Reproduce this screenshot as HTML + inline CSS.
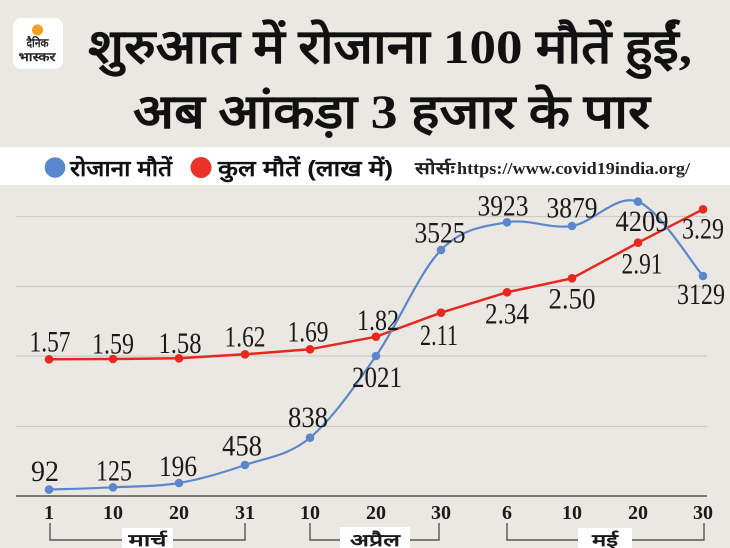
<!DOCTYPE html>
<html><head><meta charset="utf-8"><style>
html,body{margin:0;padding:0;background:#ebe8e3;}
svg{display:block;}
</style></head><body>
<svg width="730" height="548" viewBox="0 0 730 548" xmlns="http://www.w3.org/2000/svg">
<rect width="730" height="548" fill="#ebe8e3"/>
<!-- logo -->
<rect x="13" y="18" width="50" height="51" rx="8" fill="#ffffff"/>
<circle cx="37.5" cy="30" r="5.5" fill="#f5a020"/>
<text x="37.5" y="47" text-anchor="middle" font-family="'Liberation Sans', sans-serif" font-weight="bold" font-size="12" textLength="22" lengthAdjust="spacingAndGlyphs" fill="#222">दैनिक</text>
<text x="37" y="61" text-anchor="middle" font-family="'Liberation Sans', sans-serif" font-weight="bold" font-size="12" textLength="37" lengthAdjust="spacingAndGlyphs" fill="#222">भास्कर</text>
<!-- title -->
<text x="88" y="63" font-family="'Liberation Serif', serif" font-weight="bold" font-size="48" textLength="604" lengthAdjust="spacingAndGlyphs" fill="#111">शुरुआत में रोजाना 100 मौतें हुईं,</text>
<text x="133" y="128" font-family="'Liberation Serif', serif" font-weight="bold" font-size="48" textLength="517" lengthAdjust="spacingAndGlyphs" fill="#111">अब आंकड़ा 3 हजार के पार</text>
<!-- legend band -->
<rect x="0" y="147" width="730" height="38" fill="#ffffff"/>
<circle cx="55" cy="167.5" r="10.3" fill="#5a87cc"/>
<text x="70" y="176" font-family="'Liberation Sans', sans-serif" font-weight="bold" font-size="22" textLength="102" lengthAdjust="spacingAndGlyphs" fill="#111">रोजाना मौतें</text>
<circle cx="201" cy="167.5" r="10.5" fill="#e8322a"/>
<text x="218" y="176" font-family="'Liberation Sans', sans-serif" font-weight="bold" font-size="22" textLength="175" lengthAdjust="spacingAndGlyphs" fill="#111">कुल मौतें (लाख में)</text>
<text x="415" y="174" font-family="'Liberation Serif', serif" font-weight="bold" font-size="17" textLength="40" lengthAdjust="spacingAndGlyphs" fill="#222">सोर्सः</text>
<text x="457" y="174" font-family="'Liberation Serif', serif" font-weight="bold" font-size="17" textLength="233" lengthAdjust="spacingAndGlyphs" fill="#222">https://www.covid19india.org/</text>
<!-- gridlines -->
<g stroke="#cdcac5" stroke-width="1.2">
<line x1="16" y1="216.5" x2="707" y2="216.5"/>
<line x1="16" y1="286.5" x2="707" y2="286.5"/>
<line x1="16" y1="356" x2="707" y2="356"/>
<line x1="16" y1="426.5" x2="707" y2="426.5"/>
</g>
<line x1="16" y1="496" x2="707" y2="496" stroke="#5a5855" stroke-width="1.5"/>
<!-- red series -->
<polyline fill="none" stroke="#e8281e" stroke-width="2.5" stroke-linejoin="round" points="49,359.3 113,359 179,358.3 245,354.3 310,349.3 376,336.7 441,312.7 507,292.3 572,278.3 638,242.7 703,209.3"/>
<!-- blue series -->
<path fill="none" stroke="#5a87cc" stroke-width="2.2" d="M49,489.6 C59.7,489.2 91.3,488.4 113,487.3 C134.7,486.2 157,486.7 179,483 C201,479.3 223.2,472.6 245,465 C266.8,457.5 288.2,455.9 310,437.7 C331.8,419.5 354.2,387.3 376,356 C397.8,324.7 419.2,272.3 441,250 C462.8,227.7 485.2,226.3 507,222.3 C528.8,218.3 550.2,229.4 572,226 C593.8,222.6 616.2,193.4 638,201.7 C659.8,210 692.1,263.6 703,276"/>
<g fill="#e8281e">
<circle cx="49" cy="359.3" r="4.3"/><circle cx="113" cy="359" r="4.3"/><circle cx="179" cy="358.3" r="4.3"/><circle cx="245" cy="354.3" r="4.3"/><circle cx="310" cy="349.3" r="4.3"/><circle cx="376" cy="336.7" r="4.3"/><circle cx="441" cy="312.7" r="4.3"/><circle cx="507" cy="292.3" r="4.3"/><circle cx="572" cy="278.3" r="4.3"/><circle cx="638" cy="242.7" r="4.3"/><circle cx="703" cy="209.3" r="4.3"/>
</g>
<g fill="#5a87cc">
<circle cx="49" cy="489.6" r="4.3"/><circle cx="113" cy="487.3" r="4.3"/><circle cx="179" cy="483" r="4.3"/><circle cx="245" cy="465" r="4.3"/><circle cx="310" cy="437.7" r="4.3"/><circle cx="376" cy="356" r="4.3"/><circle cx="441" cy="250" r="4.3"/><circle cx="507" cy="222.3" r="4.3"/><circle cx="572" cy="226" r="4.3"/><circle cx="638" cy="201.7" r="4.3"/><circle cx="703" cy="276" r="4.3"/>
</g>
<!-- blue labels -->
<g font-family="'Liberation Serif', serif" font-size="30" fill="#1a1a1a" text-anchor="middle">
<text x="45" y="481" textLength="28" lengthAdjust="spacingAndGlyphs">92</text>
<text x="114" y="480.7" textLength="36" lengthAdjust="spacingAndGlyphs">125</text>
<text x="178" y="476" textLength="38" lengthAdjust="spacingAndGlyphs">196</text>
<text x="242" y="455.7" textLength="40" lengthAdjust="spacingAndGlyphs">458</text>
<text x="308" y="427" textLength="40" lengthAdjust="spacingAndGlyphs">838</text>
<text x="377" y="387" textLength="50" lengthAdjust="spacingAndGlyphs">2021</text>
<text x="440" y="242.7" textLength="51" lengthAdjust="spacingAndGlyphs">3525</text>
<text x="503" y="215.7" textLength="51" lengthAdjust="spacingAndGlyphs">3923</text>
<text x="572" y="217.7" textLength="51" lengthAdjust="spacingAndGlyphs">3879</text>
<text x="642" y="231" textLength="53" lengthAdjust="spacingAndGlyphs">4209</text>
<text x="701" y="304" textLength="48" lengthAdjust="spacingAndGlyphs">3129</text>
<!-- red labels -->
<text x="50" y="351.7" textLength="41" lengthAdjust="spacingAndGlyphs">1.57</text>
<text x="113" y="353.3" textLength="42" lengthAdjust="spacingAndGlyphs">1.59</text>
<text x="180" y="353" textLength="43" lengthAdjust="spacingAndGlyphs">1.58</text>
<text x="245" y="346.7" textLength="41" lengthAdjust="spacingAndGlyphs">1.62</text>
<text x="308" y="341.5" textLength="41" lengthAdjust="spacingAndGlyphs">1.69</text>
<text x="378" y="330" textLength="42" lengthAdjust="spacingAndGlyphs">1.82</text>
<text x="439" y="345" textLength="38" lengthAdjust="spacingAndGlyphs">2.11</text>
<text x="507" y="323.3" textLength="44" lengthAdjust="spacingAndGlyphs">2.34</text>
<text x="572" y="308.3" textLength="47" lengthAdjust="spacingAndGlyphs">2.50</text>
<text x="642" y="273.3" textLength="41" lengthAdjust="spacingAndGlyphs">2.91</text>
<text x="703" y="238.3" textLength="42" lengthAdjust="spacingAndGlyphs">3.29</text>
</g>
<!-- x ticks -->
<g font-family="'Liberation Serif', serif" font-size="20" font-weight="bold" fill="#1a1a1a" text-anchor="middle">
<text x="49" y="519">1</text>
<text x="113" y="519">10</text>
<text x="179" y="519">20</text>
<text x="245" y="519">31</text>
<text x="310" y="519">10</text>
<text x="376" y="519">20</text>
<text x="441" y="519">30</text>
<text x="507" y="519">6</text>
<text x="572" y="519">10</text>
<text x="638" y="519">20</text>
<text x="703" y="519">30</text>
</g>
<!-- brackets -->
<g fill="none" stroke="#555" stroke-width="1.4">
<polyline points="50,523 50,540 245,540 245,523"/>
<polyline points="310,523 310,540 439,540 439,523"/>
<polyline points="507,523 507,540 704,540 704,523"/>
</g>
<rect x="122" y="528" width="51" height="20" fill="#ffffff"/>
<rect x="340" y="527" width="70" height="21" fill="#ffffff"/>
<rect x="578" y="528" width="54" height="20" fill="#ffffff"/>
<g font-family="'Liberation Sans', sans-serif" font-weight="bold" font-size="17" fill="#1a1a1a" text-anchor="middle">
<text x="147.5" y="546" textLength="38" lengthAdjust="spacingAndGlyphs">मार्च</text>
<text x="375" y="546" textLength="50" lengthAdjust="spacingAndGlyphs">अप्रैल</text>
<text x="605" y="546" textLength="26" lengthAdjust="spacingAndGlyphs">मई</text>
</g>
</svg>
</body></html>
